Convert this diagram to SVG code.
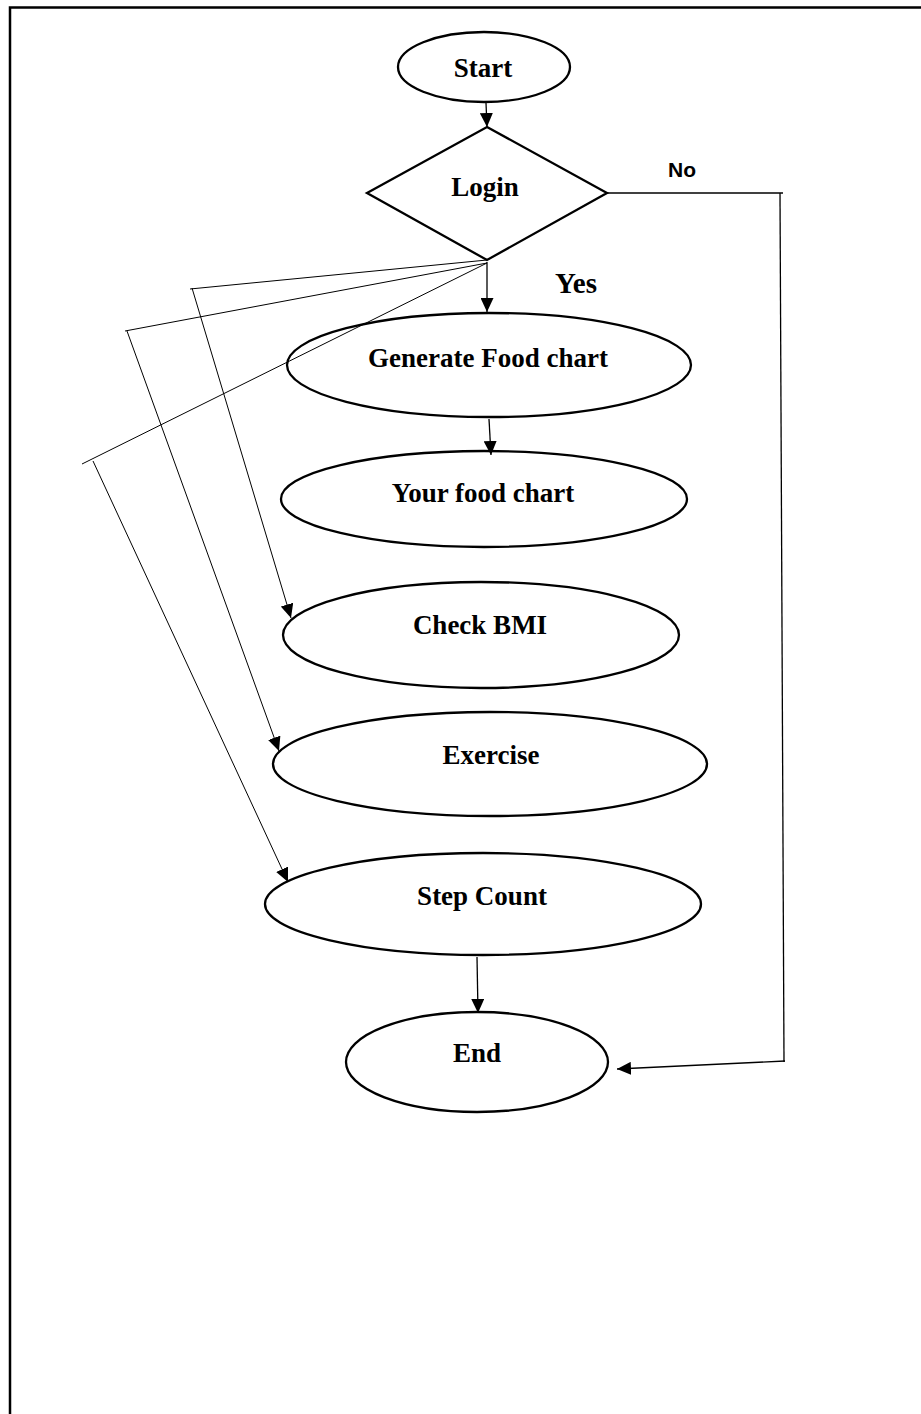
<svg xmlns="http://www.w3.org/2000/svg" width="921" height="1414" viewBox="0 0 921 1414">
<style>
.node{fill:none;stroke:#000;stroke-width:2.3}
.lbl{font-family:"Liberation Serif","Times New Roman",serif;font-weight:bold;font-size:27px;text-anchor:middle;fill:#000}
.conn{fill:none;stroke:#000;stroke-width:1.3}
.thin{fill:none;stroke:#000;stroke-width:1}
</style>
<defs>
<marker id="ah" markerUnits="userSpaceOnUse" markerWidth="14" markerHeight="13" refX="14" refY="6.5" orient="auto">
<path d="M0,0 L14,6.5 L0,13 z" fill="#000"/>
</marker>
</defs>
<rect width="921" height="1414" fill="#fff"/>
<path d="M10,1414 V7.5 H921" fill="none" stroke="#000" stroke-width="2.5"/>
<g id="connectors">
<line class="conn" x1="486" y1="103" x2="487" y2="127" marker-end="url(#ah)"/>
<line class="conn" x1="487" y1="262" x2="487" y2="312" marker-end="url(#ah)"/>
<line class="conn" x1="489" y1="419" x2="491" y2="455" marker-end="url(#ah)"/>
<line class="thin" x1="487" y1="260" x2="190" y2="289"/>
<line class="thin" x1="192" y1="288" x2="291" y2="618" marker-end="url(#ah)"/>
<line class="thin" x1="487" y1="263" x2="125" y2="331"/>
<line class="thin" x1="127" y1="331" x2="279" y2="751" marker-end="url(#ah)"/>
<line class="thin" x1="487" y1="263" x2="82" y2="464"/>
<line class="thin" x1="93" y1="461" x2="288" y2="882" marker-end="url(#ah)"/>
<line class="conn" x1="477" y1="957" x2="478" y2="1013" marker-end="url(#ah)"/>
<path d="M607,193 H783" fill="none" stroke="#000" stroke-width="1.6"/>
<line class="conn" x1="780" y1="193" x2="784" y2="1062"/>
<line class="conn" x1="785" y1="1061" x2="617" y2="1069" marker-end="url(#ah)"/>
</g>
<g id="start">
<ellipse class="node" cx="484" cy="67" rx="86" ry="35"/>
<text class="lbl" x="483" y="77">Start</text>
</g>
<g id="login">
<polygon class="node" points="487,127 607,193 487,260 367,193"/>
<text class="lbl" x="485" y="196">Login</text>
</g>
<g id="label-no">
<text x="682" y="177" font-family="Liberation Sans, Arial, sans-serif" font-weight="bold" font-size="21" text-anchor="middle">No</text>
</g>
<g id="label-yes">
<text class="lbl" x="576" y="293" style="font-size:29px">Yes</text>
</g>
<g id="generate">
<ellipse class="node" cx="489" cy="365" rx="202" ry="52"/>
<text class="lbl" x="488" y="367">Generate Food chart</text>
</g>
<g id="yourfood">
<ellipse class="node" cx="484" cy="499" rx="203" ry="48"/>
<text class="lbl" x="483" y="502">Your food chart</text>
</g>
<g id="bmi">
<ellipse class="node" cx="481" cy="635" rx="198" ry="53"/>
<text class="lbl" x="480" y="634">Check BMI</text>
</g>
<g id="exercise">
<ellipse class="node" cx="490" cy="764" rx="217" ry="52"/>
<text class="lbl" x="491" y="764">Exercise</text>
</g>
<g id="stepcount">
<ellipse class="node" cx="483" cy="904" rx="218" ry="51"/>
<text class="lbl" x="482" y="905">Step Count</text>
</g>
<g id="end">
<ellipse class="node" cx="477" cy="1062" rx="131" ry="50"/>
<text class="lbl" x="477" y="1062">End</text>
</g>
</svg>
